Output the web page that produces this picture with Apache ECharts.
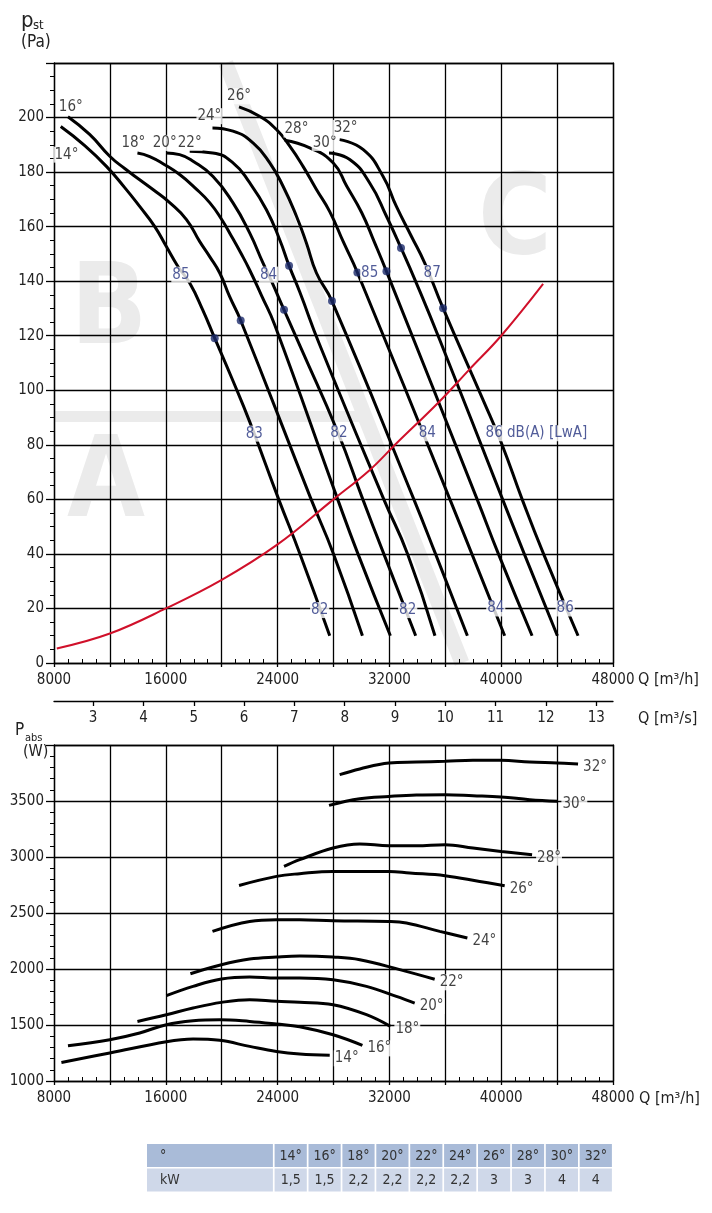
<!DOCTYPE html>
<html>
<head>
<meta charset="utf-8">
<script src="https://cdn.jsdelivr.net/npm/echarts@6.0.0/dist/echarts.min.js"></script>
<style>
html,body{margin:0;padding:0;background:#fff;}
#chart{width:712px;height:1213px;}
</style>
</head>
<body>
<div id="chart"></div>
<script>
// ================= DATA =================
const temperatures = ['14°','16°','18°','20°','22°','24°','26°','28°','30°','32°'];

// static pressure curves: [Q m³/h, p_st Pa]
const pst14 = [[8480,196.7],[10200,189.7],[11750,182.1],[13060,174.3],[14130,167.4],[15210,160.0],[16040,152.7],[16870,145.4],[17710,139.3],[18640,129.5],[19500,119.1],[20720,104.5],[22000,88.5],[24080,60],[25600,40],[27730,10]];
const pst16 = [[9000,200.3],[10550,193.8],[11990,185.8],[13060,181.3],[14130,177.2],[15080,173.6],[16280,168.8],[17480,162.6],[18430,154.5],[19140,149.0],[19860,143.0],[20570,134.3],[21360,125.6],[26400,60],[28000,40],[30070,10]];
const pst18 = [[13970,187.0],[14850,185.7],[15920,182.7],[16990,179.1],[18070,174.3],[19140,168.8],[20000,162.6],[20720,156.3],[21360,150.4],[22000,144.1],[22860,134.6],[23790,124.0],[28300,60],[29750,40],[32070,10]];
const pst20 = [[16040,187.0],[16990,186.4],[17950,184.0],[19380,178.4],[20810,168.7],[22000,157.7],[22960,146.6],[23580,139.8],[24460,129.5],[25730,114.8],[28300,84.7],[30100,60],[31600,40],[33880,10]];
const pst22 = [[17710,187.6],[19360,187.0],[20790,183.5],[22000,176.1],[23200,166.2],[24150,155.2],[24820,145.7],[25580,136.1],[27010,116.7],[31600,60],[33300,40],[35260,10]];
const pst24 = [[19340,196.2],[20810,195.0],[22240,190.7],[23440,183.4],[24390,174.8],[25350,163.8],[26060,154.0],[26780,143.0],[27890,132.7],[33750,60],[35300,40],[37580,10]];
const pst26 = [[21240,203.9],[22740,200.4],[23920,195.6],[24870,189.5],[25820,182.1],[26780,173.6],[27730,165.5],[28730,154.1],[29710,143.2],[36330,60],[37900,40],[40250,10]];
const pst28 = [[24510,191.7],[26300,188.9],[27970,183.4],[28950,174.8],[30020,165.1],[30910,154.5],[31790,143.6],[38280,60],[39800,40],[42210,10]];
const pst30 = [[27680,187.0],[29160,184.6],[30590,176.0],[31790,163.8],[32830,152.2],[33930,139.3],[35600,118.5],[40100,60],[41650,40],[44020,10]];
const pst32 = [[28440,191.9],[30110,188.3],[31540,178.5],[32500,167.4],[33580,156.4],[34530,146.6],[35840,130.1],[38700,96.5],[40020,80.6],[41500,60],[43030,40],[45500,10]];

// system (duct) curve
const systemCurve = [[8200,5.3],[12000,10.8],[16000,20],[20000,30.5],[24000,43.5],[28000,60],[30600,70.8],[32400,80],[35600,96],[37700,107.5],[40000,120],[43000,139]];

// best-efficiency dots
const dotQ = [19500,21360,24460,24820,27890,29710,31790,32830,35840];
const dotP = [119.1,125.6,129.5,145.7,132.7,143.2,143.6,152.2,130.1];

// sound level labels
const dbText = ['85','84','85','87','83','82','84','86 dB(A) [LwA]','82','82','84','86'];
const dbQ = [17080,23350,30590,35060,22330,28390,34710,42520,27010,33310,39610,44580];
const dbP = [142.4,142.4,143.0,143.0,84.1,84.2,84.2,84.2,19.4,19.4,20.0,20.0];

// blade-angle label anchors (top chart)
const angleLabelQ = [8890,9200,13680,15920,17710,19120,21240,25350,27370,28870];
const angleLabelP = [186.4,204.0,190.7,190.7,190.7,200.5,207.8,195.6,190.7,196.2];

// watermark bands (zone borders A / B / C)
const bandDiagonal = [[20290,220],[37190,0]];
const bandHorizontal = [[8000,90.4],[30250,90.4]];

// absorbed power curves: [Q m³/h, P W]
const pabs14 = [[8530,1166],[11990,1250],[16040,1351],[17950,1375],[19860,1363],[22000,1309],[23920,1264],[25580,1241],[27730,1229]];
const pabs16 = [[9000,1315],[11990,1369],[14130,1429],[16040,1503],[17950,1538],[19860,1547],[22000,1532],[23920,1509],[25580,1485],[27970,1413],[30070,1318]];
const pabs18 = [[13970,1532],[16040,1592],[17950,1652],[19980,1702],[22000,1726],[23920,1711],[25580,1703],[27970,1681],[30360,1592],[32070,1488]];
const pabs20 = [[16040,1762],[17950,1845],[19980,1911],[22000,1929],[23920,1920],[25580,1920],[27970,1904],[30360,1845],[32500,1755],[33810,1696]];
const pabs22 = [[17760,1958],[19980,2038],[22000,2089],[23920,2107],[25580,2116],[27970,2107],[29880,2083],[32740,1994],[35240,1908]];
const pabs24 = [[19340,2336],[22000,2425],[23920,2440],[25580,2440],[27970,2431],[31970,2425],[33220,2411],[35600,2336],[37580,2277]];
const pabs26 = [[21240,2746],[23920,2827],[25580,2851],[27970,2871],[31970,2871],[33450,2857],[35980,2833],[38460,2782],[40250,2744]];
const pabs28 = [[24460,2916],[25580,2976],[27970,3080],[29880,3116],[31970,3101],[33930,3101],[35980,3110],[37980,3080],[39990,3050],[42210,3021]];
const pabs30 = [[27680,3461],[29880,3520],[31970,3541],[33930,3554],[35980,3556],[37980,3547],[39990,3536],[42040,3512],[44020,3497]];
const pabs32 = [[28440,3735],[29880,3786],[31970,3839],[33930,3848],[35980,3854],[37980,3863],[39990,3863],[42040,3848],[44020,3839],[45500,3830]];

// secondary axis ticks (m³/s)
const flowTicksM3s = [3,4,5,6,7,8,9,10,11,12,13];

// motor power table
const tableHeadLabel = '°';
const tableRowLabel = 'kW';
const tableKW = ['1,5','1,5','2,2','2,2','2,2','2,2','3','3','4','4'];

const pstCurves = [pst14,pst16,pst18,pst20,pst22,pst24,pst26,pst28,pst30,pst32];
const pabsCurves = [pabs14,pabs16,pabs18,pabs20,pabs22,pabs24,pabs26,pabs28,pabs30,pabs32];

// ================= LAYOUT / STYLE =================
const FONT = "'Liberation Sans Narrow','DejaVu Sans Condensed',Roboto,sans-serif";
const PLOT_L = 54, PLOT_W = 559;
const TOP_T = 63, TOP_H = 600;
const BOT_T = 745, BOT_H = 336;
const AXC = '#000';
const TXT = '#222';
const BAND = '#ebebeb';
const LBL = 15;

function mainX(grid) {
  return {
    gridIndex: grid, type: 'value', min: 8000, max: 48000, interval: 4000, position: 'bottom', z: 1,
    axisLine: {show: true, onZero: false, lineStyle: {color: AXC, width: 1.3}},
    axisTick: {show: true, inside: false, length: 4, lineStyle: {color: AXC, width: 1.3}},
    axisLabel: {show: true, margin: 10, color: TXT, fontSize: LBL, fontFamily: FONT,
      formatter: v => (v % 8000 === 0 ? String(v) : '')},
    splitLine: {show: true, lineStyle: {color: AXC, width: 1.3}}
  };
}
function minorX(grid) {
  return {
    gridIndex: grid, type: 'value', min: 8000, max: 48000, interval: 1000, position: 'bottom', z: 1,
    axisLine: {show: false}, axisLabel: {show: false}, splitLine: {show: false},
    axisTick: {show: true, inside: true, length: 4, lineStyle: {color: AXC, width: 1}}
  };
}
function borderX(grid) {
  return {
    gridIndex: grid, type: 'value', min: 8000, max: 48000, position: 'top', z: 1,
    axisLine: {show: true, onZero: false, lineStyle: {color: AXC, width: 1.3}},
    axisTick: {show: false}, axisLabel: {show: false}, splitLine: {show: false}
  };
}
function mainY(grid, min, max, interval, minorSplit) {
  return {
    gridIndex: grid, type: 'value', min, max, interval, position: 'left', z: 1,
    axisLine: {show: true, onZero: false, lineStyle: {color: AXC, width: 1.3}},
    axisTick: {show: true, inside: false, length: 8, lineStyle: {color: AXC, width: 1.3}},
    minorTick: {show: true, splitNumber: minorSplit, length: 4, lineStyle: {color: AXC, width: 1}},
    axisLabel: {show: true, margin: 10, color: TXT, fontSize: LBL, fontFamily: FONT,
      formatter: v => (v >= max ? '' : String(v))},
    splitLine: {show: true, lineStyle: {color: AXC, width: 1.3}},
    minorSplitLine: {show: false}
  };
}
function borderY(grid, min, max) {
  return {
    gridIndex: grid, type: 'value', min, max, position: 'right', z: 1,
    axisLine: {show: true, onZero: false, lineStyle: {color: AXC, width: 1.3}},
    axisTick: {show: false}, axisLabel: {show: false}, splitLine: {show: false}
  };
}

const flowTickValues = flowTicksM3s.map(v => v * 3600);

const xAxes = [
  mainX(0), minorX(0), borderX(0),
  {
    gridIndex: 1, type: 'value', min: 8000, max: 48000, position: 'bottom', z: 1,
    axisLine: {show: true, onZero: false, lineStyle: {color: AXC, width: 1.3}},
    axisTick: {show: true, inside: false, length: 5, customValues: flowTickValues, lineStyle: {color: AXC, width: 1.3}},
    axisLabel: {show: true, margin: 10, color: TXT, fontSize: LBL, fontFamily: FONT, customValues: flowTickValues,
      formatter: v => String(Math.round(v / 3600))},
    splitLine: {show: false}
  },
  mainX(2), minorX(2), borderX(2)
];
const yAxes = [
  mainY(0, 0, 220, 20, 4), borderY(0, 0, 220),
  {gridIndex: 1, type: 'value', show: false, min: 0, max: 1},
  mainY(2, 1000, 4000, 500, 5), borderY(2, 1000, 4000)
];

const series = [];
// watermark bands
series.push({type: 'line', xAxisIndex: 0, yAxisIndex: 0, data: bandDiagonal, symbol: 'none', silent: true, z: 0,
  lineStyle: {color: BAND, width: 15, cap: 'butt'}, emphasis: {disabled: true}});
series.push({type: 'line', xAxisIndex: 0, yAxisIndex: 0, data: bandHorizontal, symbol: 'none', silent: true, z: 0,
  lineStyle: {color: BAND, width: 11, cap: 'butt'}, emphasis: {disabled: true}});

// pressure curves
pstCurves.forEach((c, i) => {
  series.push({type: 'line', name: 'pst ' + temperatures[i], xAxisIndex: 0, yAxisIndex: 0, data: c,
    symbol: 'none', smooth: 0.5, z: 2, lineStyle: {color: '#000', width: 3, cap: 'butt'}, emphasis: {disabled: true}});
});
// system curve
series.push({type: 'line', name: 'system', xAxisIndex: 0, yAxisIndex: 0, data: systemCurve,
  symbol: 'none', smooth: 0.4, z: 2, lineStyle: {color: '#d0102a', width: 2}, emphasis: {disabled: true}});
// dots
series.push({type: 'scatter', xAxisIndex: 0, yAxisIndex: 0, data: dotQ.map((q, i) => [q, dotP[i]]),
  symbolSize: 8, z: 4, itemStyle: {color: '#1b2a6b'}, emphasis: {disabled: true}});
// dB labels
series.push({type: 'scatter', xAxisIndex: 0, yAxisIndex: 0,
  data: dbText.map((t, i) => ({name: t, value: [dbQ[i], dbP[i]]})),
  symbolSize: 0, z: 5, emphasis: {disabled: true},
  label: {show: true, position: 'inside', formatter: p => p.name, color: '#26337f', fontSize: LBL, fontFamily: FONT,
    backgroundColor: '#fff', padding: [1, 1, 0, 1]}});
// blade-angle labels (top)
series.push({type: 'scatter', xAxisIndex: 0, yAxisIndex: 0,
  data: temperatures.map((t, i) => ({name: t, value: [angleLabelQ[i], angleLabelP[i]]})),
  symbolSize: 0, z: 5, emphasis: {disabled: true},
  label: {show: true, position: 'inside', formatter: p => p.name, color: '#111', fontSize: LBL, fontFamily: FONT,
    backgroundColor: '#fff', padding: [1, 1, 0, 1]}});

// power curves
pabsCurves.forEach((c, i) => {
  series.push({type: 'line', name: 'pabs ' + temperatures[i], xAxisIndex: 4, yAxisIndex: 3, data: c,
    symbol: 'none', smooth: 0.4, z: 2, lineStyle: {color: '#000', width: 3, cap: 'butt'}, emphasis: {disabled: true}});
});
series.push({type: 'scatter', xAxisIndex: 4, yAxisIndex: 3,
  data: pabsCurves.map((c, i) => ({name: temperatures[i], value: c[c.length - 1]})),
  symbolSize: 0, z: 5, emphasis: {disabled: true},
  label: {show: true, position: 'right', distance: 4, offset: [0, 3], formatter: p => p.name, color: '#111',
    fontSize: LBL, fontFamily: FONT, backgroundColor: '#fff', padding: [1, 1, 0, 1]}});

// ================= GRAPHIC (watermark letters, titles, table) =================
const graphics = [];
const letterStyle = (t) => ({text: t, fill: BAND, fontSize: 112, fontWeight: 'bold', fontFamily: FONT, align: 'center', verticalAlign: 'middle'});
graphics.push({type: 'text', x: 109, y: 314, z: 0, silent: true, style: letterStyle('B')});
graphics.push({type: 'text', x: 106, y: 487, z: 0, silent: true, style: letterStyle('A')});
graphics.push({type: 'text', x: 515, y: 224, z: 0, silent: true, style: letterStyle('C')});

const txt = (x, y, t, size, align) => ({type: 'text', x, y, z: 6, silent: true,
  style: {text: t, fill: TXT, fontSize: size, fontFamily: FONT, align: align || 'left', verticalAlign: 'middle'}});
// axis titles
graphics.push(txt(21, 21, 'p', 22));
graphics.push(txt(33, 26, 'st', 13));
graphics.push(txt(21, 43, '(Pa)', 17));
graphics.push(txt(15, 731, 'P', 17));
graphics.push(txt(25, 738, 'abs', 11));
graphics.push(txt(23, 752, '(W)', 16));
graphics.push(txt(638, 680, 'Q [m³/h]', 16));
graphics.push(txt(638, 719, 'Q [m³/s]', 16));
graphics.push(txt(639, 1099, 'Q [m³/h]', 16));

// table
const TX = 147, TY = 1144, FIRST_W = 127.6, COL_W = 33.9, ROW_H = 24.4;
const headRow = [tableHeadLabel].concat(temperatures);
const kwRow = [tableRowLabel].concat(tableKW);
[headRow, kwRow].forEach((row, r) => {
  row.forEach((t, c) => {
    const x = c === 0 ? TX : TX + FIRST_W + (c - 1) * COL_W;
    const w = (c === 0 ? FIRST_W : COL_W) - 1.7;
    const y = TY + r * ROW_H;
    const h = ROW_H - 1.4;
    graphics.push({type: 'rect', z: 6, silent: true, shape: {x, y, width: w, height: h},
      style: {fill: r === 0 ? '#a9bbd8' : '#cfd8e9'}});
    graphics.push({type: 'text', z: 7, silent: true, x: c === 0 ? x + 13 : x + w / 2, y: y + h / 2 + 0.5,
      style: {text: t, fill: '#333', fontSize: 14, fontFamily: FONT, align: c === 0 ? 'left' : 'center', verticalAlign: 'middle'}});
  });
});

const chart = echarts.init(document.getElementById('chart'), null, {renderer: 'canvas'});
chart.setOption({
  animation: false,
  backgroundColor: '#fff',
  grid: [
    {left: PLOT_L, top: TOP_T, width: PLOT_W, height: TOP_H, show: false, containLabel: false, outerBoundsMode: 'none'},
    {left: PLOT_L, top: 690, width: PLOT_W, height: 11, show: false, containLabel: false, outerBoundsMode: 'none'},
    {left: PLOT_L, top: BOT_T, width: PLOT_W, height: BOT_H, show: false, containLabel: false, outerBoundsMode: 'none'}
  ],
  xAxis: xAxes,
  yAxis: yAxes,
  series: series,
  graphic: {elements: graphics},
  tooltip: {show: false}
});
</script>
</body>
</html>
